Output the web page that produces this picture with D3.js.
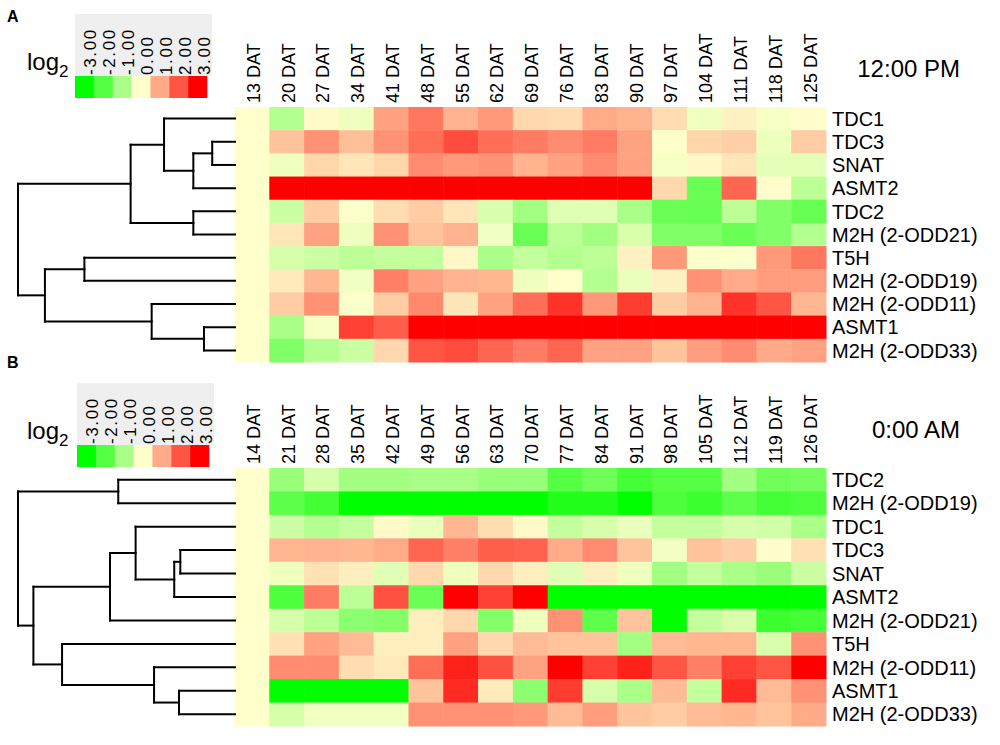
<!DOCTYPE html>
<html>
<head>
<meta charset="utf-8">
<script src="https://cdn.jsdelivr.net/npm/d3@7"></script>
<style>
  body { margin: 0; background: #fff; }
  svg { font-family: "Liberation Sans", Arial, sans-serif; }
</style>
</head>
<body>
<figure id="heat" style="margin:0"></figure>
<script>
// column labels (days after transplanting)
var colsA = ["13 DAT","20 DAT","27 DAT","34 DAT","41 DAT","48 DAT","55 DAT","62 DAT","69 DAT",
             "76 DAT","83 DAT","90 DAT","97 DAT","104 DAT","111 DAT","118 DAT","125 DAT"];
var colsB = ["14 DAT","21 DAT","28 DAT","35 DAT","42 DAT","49 DAT","56 DAT","63 DAT","70 DAT",
             "77 DAT","84 DAT","91 DAT","98 DAT","105 DAT","112 DAT","119 DAT","126 DAT"];

// row labels, in dendrogram order
var rowsA = ["TDC1","TDC3","SNAT","ASMT2","TDC2","M2H (2-ODD21)","T5H","M2H (2-ODD19)",
             "M2H (2-ODD11)","ASMT1","M2H (2-ODD33)"];
var rowsB = ["TDC2","M2H (2-ODD19)","TDC1","TDC3","SNAT","ASMT2","M2H (2-ODD21)","T5H",
             "M2H (2-ODD11)","ASMT1","M2H (2-ODD33)"];

// log2 values, one array per row (12:00 PM)
var valuesA = [
  [0,-0.9,0.05,-0.2,1.1,1.6,0.9,1.2,0.45,0.4,1.0,0.9,0.4,-0.2,0.15,-0.1,0.02],
  [0,0.7,1.3,0.75,1.3,1.7,2.1,1.7,1.55,1.35,1.55,1.1,0,0.5,0.55,-0.2,0.6],
  [0,-0.2,0.5,0.3,0.5,1.35,1.2,1.3,0.9,1.1,1.35,1.1,-0.1,0.1,0.3,-0.3,-0.3],
  [0,3,3,3,3,3,3,3,3,3,3,3,0.45,-1.75,1.8,0.02,-0.8],
  [0,-0.6,0.6,-0.05,0.4,0.6,0.3,-0.45,-1.1,-0.35,-0.35,-1.0,-1.75,-1.8,-0.8,-1.5,-1.8],
  [0,0.3,1.1,-0.2,1.3,0.7,0.9,-0.15,-1.75,-0.8,-1.1,-0.45,-1.5,-1.5,-1.75,-1.5,-0.9],
  [0,-0.5,-0.6,-0.8,-0.7,-0.7,0.1,-1.0,-0.7,-0.9,-0.8,0.15,1.2,-0.05,-0.05,1.2,1.6],
  [0,0.25,0.85,-0.15,1.5,1.1,0.9,0.85,-0.2,0,-0.9,-0.25,0.15,1.3,1.0,1.15,1.15],
  [0,0.6,1.3,-0.05,0.6,1.4,0.3,1.1,1.7,2.4,1.2,2.3,0.6,0.9,2.4,2.0,0.85],
  [0,-1.0,-0.1,2.25,1.9,3,3,3,3,3,3,3,3,3,3,3,3],
  [0,-1.5,-0.9,-0.6,0.45,2.0,2.1,1.8,1.55,1.8,1.1,1.1,0.7,1.15,1.35,1.0,1.1]
];

// log2 values (0:00 AM)
var valuesB = [
  [0,-1.2,-0.5,-1.1,-1.1,-1.0,-1.0,-1.2,-1.2,-2.0,-1.7,-2.2,-2.0,-2.0,-1.1,-1.7,-1.6],
  [0,-1.9,-2.2,-3,-3,-3,-3,-3,-3,-2.6,-2.6,-3,-2.1,-2.3,-1.9,-2.2,-2.1],
  [0,-0.6,-0.9,-0.7,0.05,-0.25,0.85,0.4,0.05,-0.7,-0.5,-0.25,-0.7,-0.7,-0.5,-0.55,-1.0],
  [0,0.85,0.9,0.85,1.0,1.8,1.5,1.9,1.85,1.0,1.35,0.7,-0.15,0.7,0.55,0.02,0.35],
  [0,-0.2,0.35,0.2,-0.35,0.45,-0.2,0.45,0.2,-0.35,0.2,-0.2,-1.1,-0.7,-1.0,-1.2,-0.6],
  [0,-2.1,1.55,-0.8,2.05,-1.75,3,2.25,3,-3,-3,-3,-3,-3,-3,-3,-3],
  [0,-0.5,-0.8,-1.35,-1.45,0.2,0.45,-1.45,-0.2,1.3,-1.9,0.7,-3,-0.7,-0.45,-2.3,-2.2],
  [0,0.35,1.1,0.8,0.2,0.2,1.1,0.45,0.8,0.7,0.7,-1.1,0.8,0.85,0.85,-0.45,1.3],
  [0,1.35,1.35,0.4,0.25,1.7,2.6,2.05,1.1,3,2.25,2.6,2.0,1.5,2.25,2.0,3],
  [0,-3,-3,-3,-3,0.7,2.5,0.25,-1.35,2.3,-0.5,-1.0,0.8,-0.7,2.5,0.8,1.3],
  [0,-0.5,-0.15,-0.15,-0.15,1.3,1.3,1.3,1.2,0.8,1.15,0.7,0.6,0.8,0.85,0.7,1.0]
];

// hclust style merges: negative = leaf row (1-based), positive = earlier merge
var mergeA = [[-2,-3],[1,-4],[-1,2],[-5,-6],[3,4],[-7,-8],[-10,-11],[-9,7],[6,8],[5,9]];
var heightA = [0.105,0.192,0.327,0.192,0.481,0.694,0.143,0.384,0.876,1.0];
var mergeB = [[-1,-2],[-4,-5],[2,-6],[-3,3],[4,-7],[-10,-11],[-9,6],[-8,7],[5,8],[1,9]];
var heightB = [0.538,0.252,0.280,0.458,0.576,0.258,0.373,0.797,0.929,1.0];

// legend ticks
var legendTicks = [-3,-2,-1,0,1,2,3];
var legendLabels = ["-3.00","-2.00","-1.00","0.00","1.00","2.00","3.00"];

var W = 1000, H = 745;
var svg = d3.select("figure#heat")
  .append("svg")
  .attr("width", W)
  .attr("height", H);

var color = d3.scaleLinear()
  .domain([-3, 0, 3])
  .range(["#00ff00", "#ffffcc", "#ff0000"])
  .clamp(true);

function drawPanel(p) {
  var g = svg.append("g");

  var x = d3.scaleBand()
    .domain(p.cols)
    .range([234.5, 826]);

  var y = d3.scaleBand()
    .domain(d3.range(p.rows.length))
    .range([p.top, p.bottom]);

  // cells
  var rowsG = g.selectAll("g.row")
    .data(p.values)
    .enter()
    .append("g")
    .attr("class", "row");

  rowsG.selectAll("rect")
    .data(function(d, i) { return d.map(function(v, j) { return {r: i, c: j, v: v}; }); })
    .enter()
    .append("rect")
    .attr("x", function(d) { return x(p.cols[d.c]); })
    .attr("y", function(d) { return y(d.r); })
    .attr("width", x.bandwidth() + 0.5)
    .attr("height", y.bandwidth() + 0.5)
    .attr("fill", function(d) { return color(d.v); });

  // row labels
  g.selectAll("text.rowlab")
    .data(p.rows)
    .enter()
    .append("text")
    .attr("class", "rowlab")
    .attr("x", 832)
    .attr("y", function(d, i) { return y(i) + y.bandwidth() / 2; })
    .attr("dy", "0.36em")
    .style("font-size", "20px")
    .text(function(d) { return d; });

  // column labels, rotated
  g.selectAll("text.collab")
    .data(p.cols)
    .enter()
    .append("text")
    .attr("class", "collab")
    .attr("transform", function(d) {
      return "translate(" + (x(d) + x.bandwidth() / 2 + 8) + "," + (p.top - 4) + ") rotate(-90)";
    })
    .style("font-size", "18px")
    .text(function(d) { return d; });

  // time of day
  g.append("text")
    .attr("x", 960)
    .attr("y", p.top - 30)
    .attr("text-anchor", "end")
    .style("font-size", "24px")
    .text(p.title);

  // panel letter
  g.append("text")
    .attr("x", 7)
    .attr("y", p.letterY)
    .style("font-size", "16px")
    .style("font-weight", "bold")
    .text(p.letter);

  // dendrogram
  var dx = d3.scaleLinear().domain([0, 1]).range([235, 18]);
  var nodes = [];
  function pos(id) {
    if (id < 0) return {x: dx(0), y: y(-id - 1) + y.bandwidth() / 2};
    return nodes[id - 1];
  }
  var segs = [];
  p.merge.forEach(function(m, k) {
    var a = pos(m[0]), b = pos(m[1]);
    var nx = dx(p.height[k]);
    var n = {x: nx, y: (a.y + b.y) / 2};
    nodes.push(n);
    segs.push([nx, a.y, nx, b.y]);
    segs.push([nx, a.y, a.x, a.y]);
    segs.push([nx, b.y, b.x, b.y]);
  });
  g.selectAll("line.dend")
    .data(segs)
    .enter()
    .append("line")
    .attr("class", "dend")
    .attr("x1", function(d) { return d[0]; })
    .attr("y1", function(d) { return d[1]; })
    .attr("x2", function(d) { return d[2]; })
    .attr("y2", function(d) { return d[3]; })
    .attr("stroke", "#000")
    .attr("stroke-width", 2)
    .attr("stroke-linecap", "square");

  // legend
  var lx = d3.scaleBand().domain(legendTicks).range([p.legX, p.legX + 132]);
  g.append("rect")
    .attr("x", p.legX)
    .attr("y", p.legY - 62)
    .attr("width", 137)
    .attr("height", 62)
    .attr("fill", "#efefef");
  g.selectAll("rect.sw")
    .data(legendTicks)
    .enter()
    .append("rect")
    .attr("class", "sw")
    .attr("x", function(d) { return lx(d); })
    .attr("y", p.legY)
    .attr("width", lx.bandwidth() + 0.3)
    .attr("height", 22)
    .attr("fill", function(d) { return color(d); });
  g.selectAll("text.legl")
    .data(legendLabels)
    .enter()
    .append("text")
    .attr("class", "legl")
    .attr("transform", function(d, i) {
      return "translate(" + (lx(legendTicks[i]) + lx.bandwidth() / 2 + 12) + "," + (p.legY - 1) + ") rotate(-90)";
    })
    .style("font-size", "17px")
    .style("letter-spacing", "1.6px")
    .text(function(d) { return d; });

  var lg = g.append("text")
    .attr("x", 27)
    .attr("y", p.legY - 6)
    .style("font-size", "24px");
  lg.append("tspan").text("log");
  lg.append("tspan").attr("dy", 7).style("font-size", "17px").text("2");
}

drawPanel({cols: colsA, rows: rowsA, values: valuesA, merge: mergeA, height: heightA,
           top: 107, bottom: 362, title: "12:00 PM", letter: "A", letterY: 22,
           legX: 75, legY: 76});
drawPanel({cols: colsB, rows: rowsB, values: valuesB, merge: mergeB, height: heightB,
           top: 468, bottom: 726, title: "0:00 AM", letter: "B", letterY: 368,
           legX: 77, legY: 445});
</script>
</body>
</html>
